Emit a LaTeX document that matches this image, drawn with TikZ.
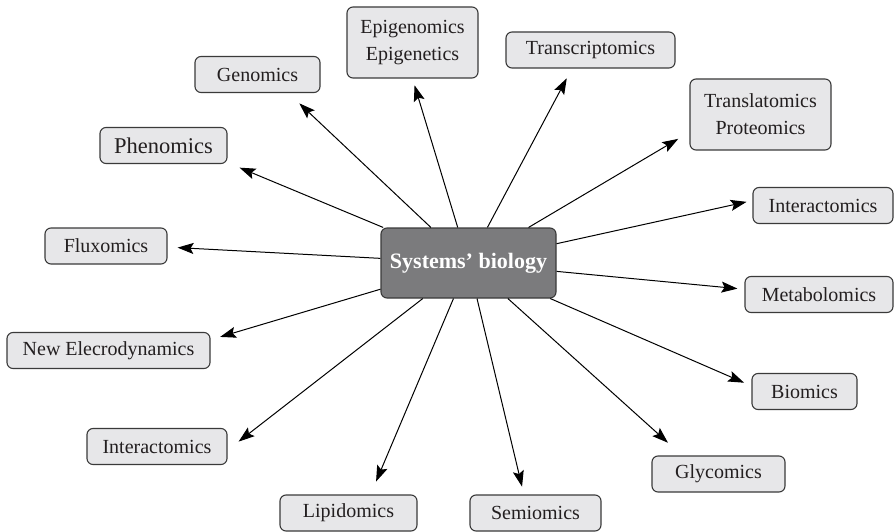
\documentclass[tikz,border=0pt]{standalone}
\usepackage{fontspec}
\setmainfont{Liberation Serif}
\usetikzlibrary{arrows.meta}
\definecolor{cInk}{HTML}{231F20}
\definecolor{cEdge}{HTML}{3A3A3A}
\definecolor{cFill}{HTML}{E7E7E9}
\definecolor{cCore}{HTML}{7B7B7D}
\tikzset{
  box/.style  = {draw=cEdge, rounded corners=6pt, align=center, line width=1.1pt,
                 text=cInk, inner sep=0pt, font=\fontsize{20}{27}\selectfont},
  omic/.style = {box, fill=cFill, minimum height=36pt},
  core/.style = {box, fill=cCore, text=white, minimum width=175pt, minimum height=70pt,
                 font=\fontsize{22}{26}\selectfont\bfseries},
  flow/.style = {-{Stealth[length=16pt,width=11pt,inset=3pt]}, line width=1pt, draw=black},
}

\begin{document}
\begin{tikzpicture}[x=1pt, y=-1pt]
  \useasboundingbox (0,0) rectangle (894,532);
  % ---- hub ----
  \node[core] (sb) at (468.5,263) {Systems’ biology};
  % ---- upper ring ----
  \node[omic, minimum width=125pt] (gen) at (257.5,74.5) {Genomics};
  \node[omic, minimum width=131pt, minimum height=71pt] (epi) at (412.5,42.5)
    {Epigenomics\\Epigenetics};
  \node[omic, minimum width=169pt] (trs) at (590.5,50) {Transcriptomics};
  \node[omic, minimum width=141pt, minimum height=71pt] (trl) at (760.5,114.5)
    {Translatomics\\Proteomics};
  \node[omic, minimum width=127pt, font=\fontsize{22.5}{26}\selectfont] (phe) at (163.5,145.5)
    {Phenomics};
  % ---- side rings ----
  \node[omic, minimum width=140pt] (intr) at (823,205.5) {Interactomics};
  \node[omic, minimum width=148pt] (met) at (819,294.5) {Metabolomics};
  \node[omic, minimum width=122pt] (flx) at (106,246) {Fluxomics};
  \node[omic, minimum width=203pt] (ned) at (108.5,350.5) {New Elecrodynamics};
  % ---- lower ring ----
  \node[omic, minimum width=105pt] (bio) at (804.5,391.5) {Biomics};
  \node[omic, minimum width=140pt] (intl) at (157,446.5) {Interactomics};
  \node[omic, minimum width=137pt] (lip) at (348.5,513) {Lipidomics};
  \node[omic, minimum width=131pt] (sem) at (535.5,513) {Semiomics};
  \node[omic, minimum width=133pt] (gly) at (718.5,474) {Glycomics};
  % ---- spokes ----
  \draw[flow, shorten >=15pt] (sb) -- (gen.-31);
  \draw[flow, shorten >=7pt]  (sb) -- (epi.south);
  \draw[flow, shorten >=11pt] (sb) -- (trs.-135);
  \draw[flow, shorten >=13pt] (sb) -- (trl.-166);
  \draw[flow, shorten >=13pt] (sb) -- (phe.-15);
  \draw[flow, shorten >=6pt]  (sb) -- (intr.176);
  \draw[flow, shorten >=7pt]  (sb) -- (met.176);
  \draw[flow, shorten >=10pt] (sb) -- (flx.-1);
  \draw[flow, shorten >=10pt] (sb) -- (ned.6);
  \draw[flow, shorten >=8pt]  (sb) -- (bio.174);
  \draw[flow, shorten >=14pt] (sb) -- (intl.-3);
  \draw[flow, shorten >=14pt] (sb) -- (lip.40);
  \draw[flow, shorten >=8pt]  (sb) -- (sem.122);
  \draw[flow, shorten >=19pt] (sb) -- (gly.153);
\end{tikzpicture}
\end{document}
